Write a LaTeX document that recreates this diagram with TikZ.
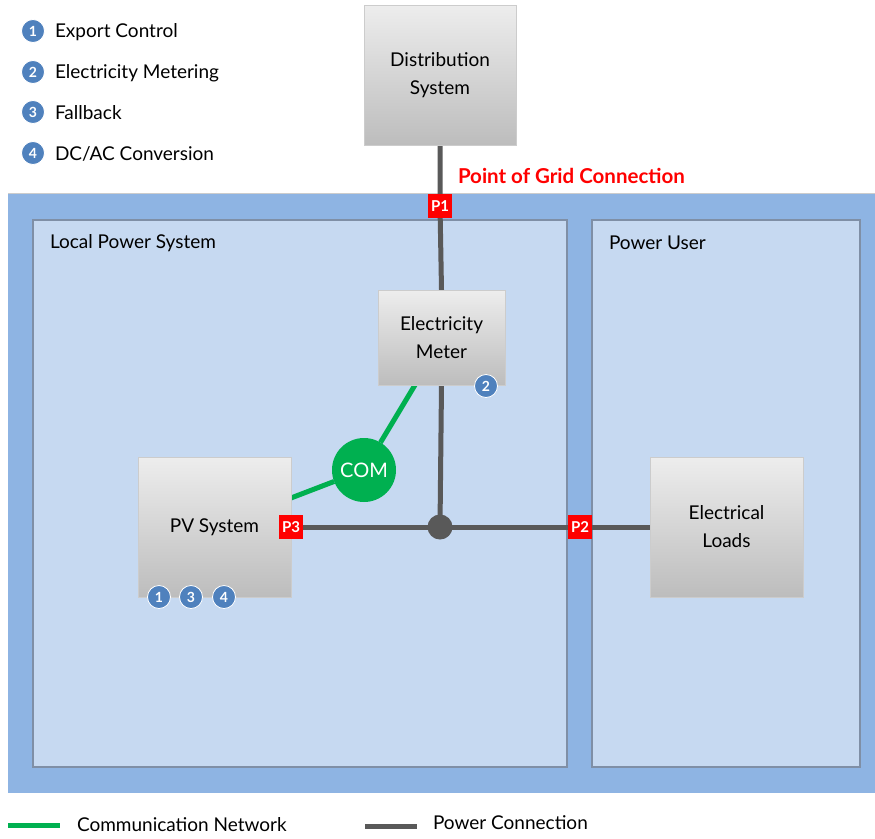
\documentclass[tikz,border=0pt]{standalone}
\usepackage{fontspec}
\setmainfont{Lato}
\usetikzlibrary{calc}
\definecolor{outerblue}{HTML}{8EB4E3}
\definecolor{innerblue}{HTML}{C6D9F1}
\definecolor{innerborder}{HTML}{7F8FA6}
\definecolor{pwr}{HTML}{595959}
\definecolor{comgreen}{HTML}{00B050}
\definecolor{badgeblue}{HTML}{4F81BD}
\definecolor{pred}{HTML}{FF0000}
\pgfdeclarelayer{back}
\pgfdeclarelayer{lines}
\pgfsetlayers{back,lines,main}
\tikzset{
  x=1pt, y=-1pt,
  every node/.style={inner sep=0pt, outer sep=0pt},
  lbl/.style={font=\fontsize{19}{22}\selectfont, text=black},
  greybox/.style={rectangle, top color=black!7, bottom color=black!26, draw=black!20, line width=0.5pt,
    align=center, font=\fontsize{19}{28}\selectfont},
  pbox/.style={rectangle, fill=pred, minimum width=24pt, minimum height=24pt, text=white,
    font=\fontsize{15}{15}\selectfont\bfseries},
  badge/.style={circle, fill=badgeblue, draw=white, line width=0.8pt, minimum size=23pt,
    text=white, font=\fontsize{14}{14}\selectfont\bfseries},
  pline/.style={draw=pwr, line width=5pt},
  cline/.style={draw=comgreen, line width=5pt},
  panel/.style={fill=innerblue, draw=innerborder, line width=1.5pt},
}
\begin{document}
\begin{tikzpicture}
\useasboundingbox (0,0) rectangle (875,838);
% legend top
\node[badge] (b1) at (33,31) {1};
\node[badge] (b2) at (33,72) {2};
\node[badge] (b3) at (33,112) {3};
\node[badge] (b4) at (33,153) {4};
\node[lbl, anchor=west] (t1) at (55,32) {Export Control};
\node[lbl, anchor=west] (t2) at (55,73) {Electricity Metering};
\node[lbl, anchor=west] (t3) at (55,113) {Fallback};
\node[lbl, anchor=west] (t4) at (55,154) {DC/AC Conversion};
% panels
\begin{pgfonlayer}{back}
\fill[outerblue] (8,193) rectangle (875,793);
\draw[black!20, line width=0.8pt] (8,193.5) -- (875,193.5);
\draw[panel] (33,220) rectangle (567,767);
\draw[panel] (592,220) rectangle (860,767);
\end{pgfonlayer}
\node[lbl, anchor=west] (lps) at (50,243) {Local Power System};
\node[lbl, anchor=west] (pu) at (609,243) {Power User};
% boxes
\node[greybox, minimum width=152pt, minimum height=140pt] (dist) at (440,75) {Distribution\\System};
\node[greybox, minimum width=127pt, minimum height=95pt] (meter) at (441.5,337.5) {Electricity\\Meter};
\node[greybox, minimum width=153pt, minimum height=140pt] (pv) at (214.5,527) {PV System};
\node[greybox, minimum width=153pt, minimum height=140pt] (loads) at (726.5,527) {Electrical\\Loads};
\node[circle, fill=comgreen, minimum size=64pt, text=white, font=\fontsize{20}{20}\selectfont] (com) at (364,470) {COM};
\node[circle, fill=pwr, minimum size=25pt] (junc) at (440,527) {};
\node[pbox] (p1) at (440,206) {P1};
\node[pbox] (p2) at (580,527) {P2};
\node[pbox] (p3) at (291,527) {P3};
\node[badge] (m2) at (486,386) {2};
\node[badge] (v1) at (159,597) {1};
\node[badge] (v3) at (191,597) {3};
\node[badge] (v4) at (224,597) {4};
\node[anchor=west, text=pred, font=\fontsize{20.5}{22}\selectfont\bfseries] (pgc) at (458,176) {Point of Grid Connection};
% connectors
\begin{pgfonlayer}{lines}
\draw[pline] (dist.south) -- (p1.center) -- (meter.north);
\draw[pline] (meter.south) -- (junc.center);
\draw[pline] (p3.center) -- (junc.center) -- (p2.center) -- (loads.west);
\draw[cline] ([xshift=37pt]meter.south west) -- (com);
\draw[cline] (com) -- ([yshift=-41pt]pv.north east);
\end{pgfonlayer}
% bottom legend
\coordinate (g1) at (8,825);
\coordinate (g2) at (60,825);
\draw[cline] (g1) -- (g2);
\node[lbl, anchor=west] (cn) at (77,825) {Communication Network};
\coordinate (k1) at (365,826);
\coordinate (k2) at (417,826);
\draw[pline] (k1) -- (k2);
\node[lbl, anchor=west] (pc) at (433,823) {Power Connection};
\end{tikzpicture}
\end{document}
